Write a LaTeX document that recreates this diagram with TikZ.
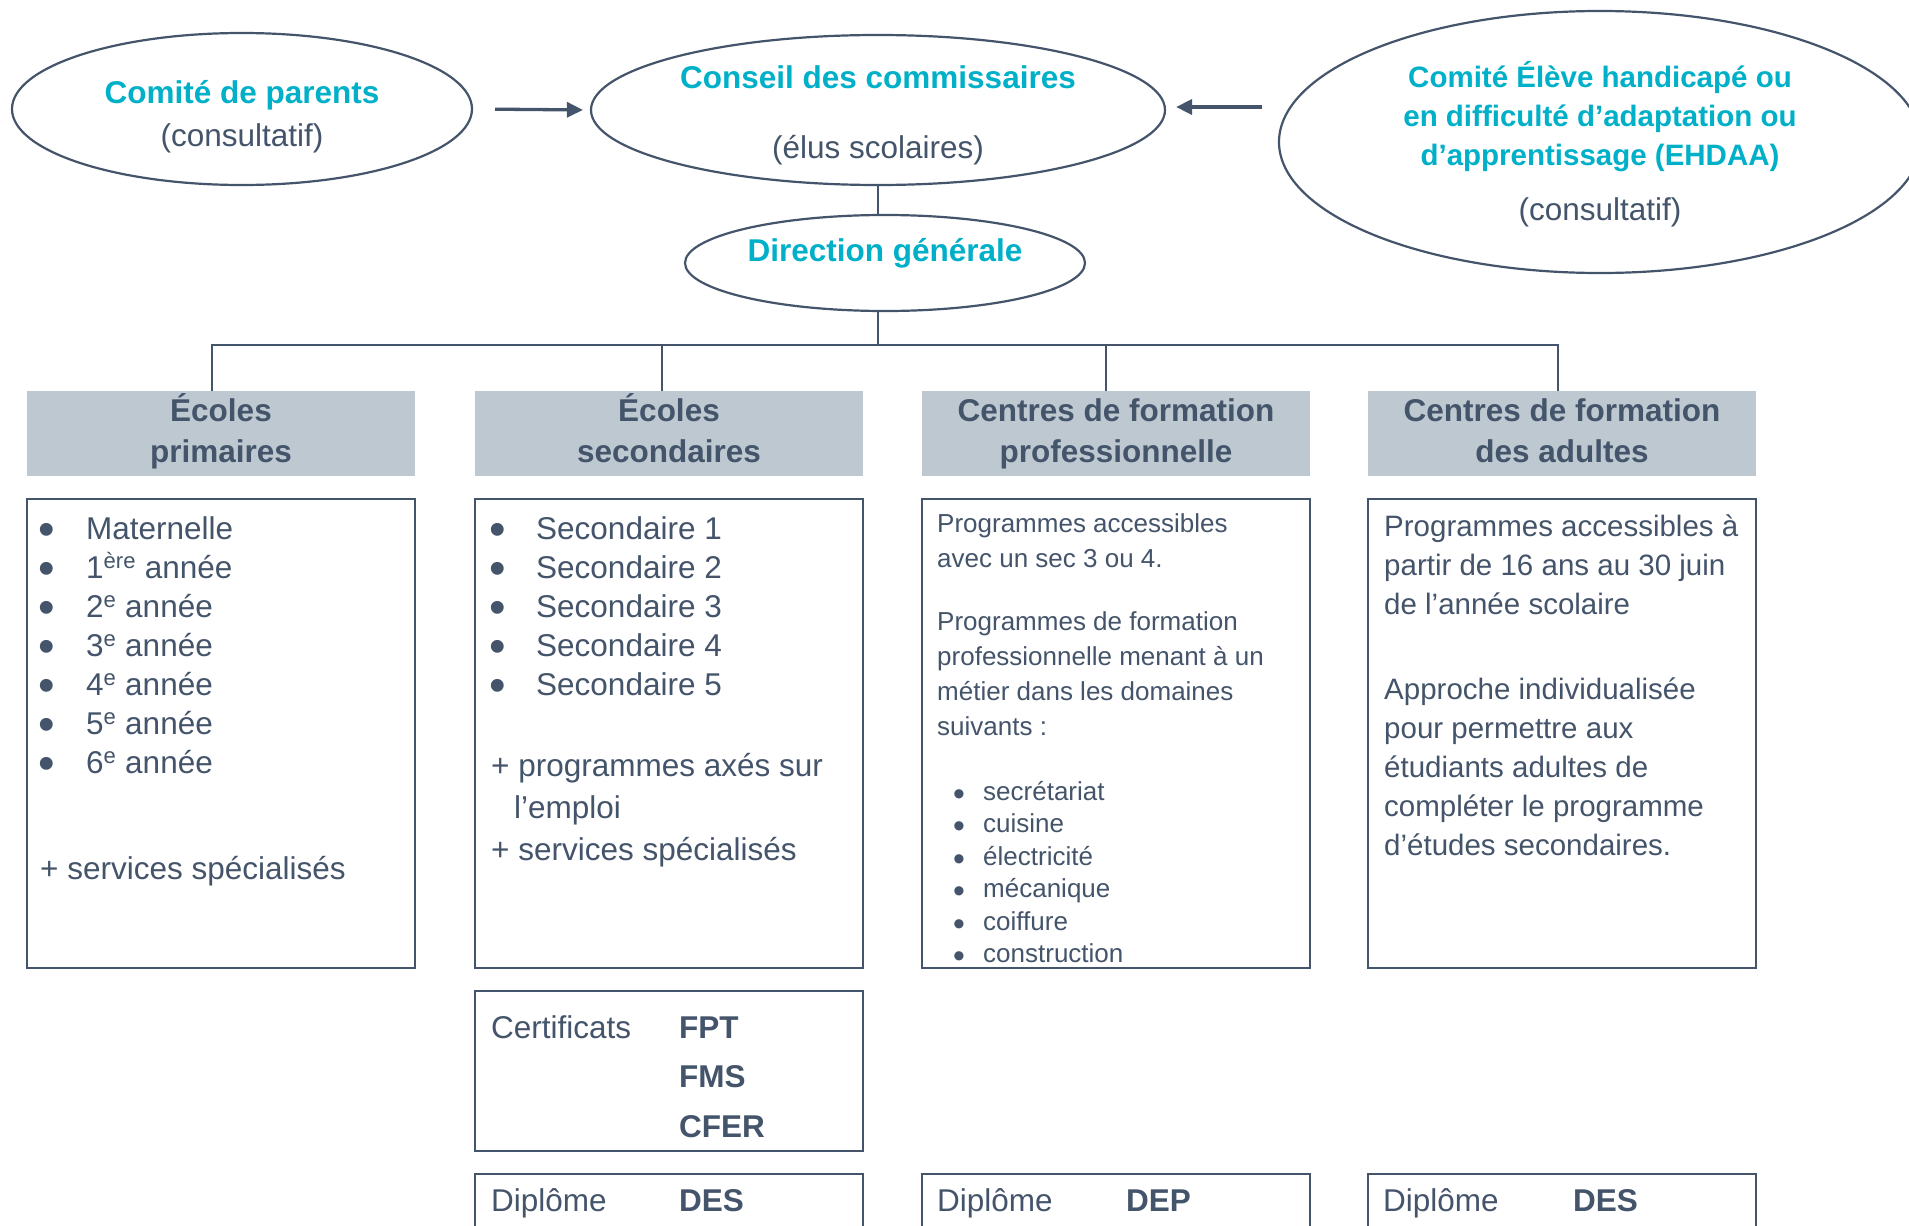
\documentclass[tikz,border=0pt]{standalone}
\usepackage{fontspec}
\usepackage{graphicx}
\setmainfont{Liberation Sans}
\usetikzlibrary{shapes.geometric,arrows.meta}
\definecolor{tealc}{HTML}{00B0C8}
\definecolor{grayc}{HTML}{44546A}
\definecolor{headc}{HTML}{BDC8D0}
\newcommand{\blt}[2]{\makebox[#1][l]{\smash{\raisebox{-0.38ex}{\scalebox{#2}{\textbullet}}}}}
\tikzset{
  ell/.style={ellipse, draw=grayc, line width=2.2pt, inner sep=0pt},
  ttl/.style={anchor=base, inner sep=0pt, text=tealc, font=\fontsize{31.5}{39}\selectfont\bfseries},
  sub/.style={anchor=base, inner sep=0pt, text=grayc, font=\fontsize{31.5}{39}\selectfont},
  hdr/.style={rectangle, fill=headc, minimum width=388pt, minimum height=85pt, inner sep=0pt,
              align=center, text=grayc, font=\fontsize{31.5}{41}\selectfont\bfseries},
  box/.style={rectangle, draw=grayc, line width=2.4pt, inner sep=0pt, minimum width=388pt},
  txt/.style={anchor=base west, inner sep=0pt, text=grayc, font=\fontsize{31.5}{39}\selectfont},
  txtb/.style={txt, font=\fontsize{31.5}{49.5}\selectfont\bfseries},
  txtc/.style={txt, font=\fontsize{26}{35.3}\selectfont},
  txtl/.style={txt, font=\fontsize{26}{32.5}\selectfont},
  txtd/.style={txt, font=\fontsize{29.5}{39}\selectfont},
  conn/.style={draw=grayc, line width=2pt},
  arr/.style={draw=grayc, line width=3.3pt, -{Triangle[length=16pt,width=15pt]}},
}
\begin{document}
\begin{tikzpicture}[x=1pt,y=-1pt]
\useasboundingbox (0,0) rectangle (1909,1226);
\fill[white] (0,0) rectangle (1909,1226);
\clip (0,0) rectangle (1909,1226);

% top ellipses
\node[ell, minimum width=460pt, minimum height=152pt] (parents) at (242,109) {};
\node[ttl] (parentsT) at (242,103) {Comité de parents};
\node[sub] (parentsS) at (242,146) {(consultatif)};

\node[ell, minimum width=574pt, minimum height=150pt] (conseil) at (878,110) {};
\node[ttl] (conseilT) at (878,88) {Conseil des commissaires};
\node[sub] (conseilS) at (878,158) {(élus scolaires)};

\node[ell, minimum width=642pt, minimum height=262pt] (ehdaa) at (1600,142) {};
\node[ttl, font=\fontsize{29.5}{39}\selectfont\bfseries] (ehdaaT) at (1600,87) {\begin{tabular}[t]{@{}c@{}}Comité Élève handicapé ou\\en difficulté d’adaptation ou\\d’apprentissage (EHDAA)\end{tabular}};
\node[sub] (ehdaaS) at (1600,220) {(consultatif)};

\node[ell, minimum width=400pt, minimum height=96pt] (direction) at (885,263) {};
\node[ttl] (directionT) at (885,261) {Direction générale};

% arrows
\draw[arr, shorten <=22pt, shorten >=7pt] (parents.east) -- (conseil.west);
\draw[arr] ([xshift=-16pt,yshift=3pt]ehdaa.west |- conseil.east) -- ([xshift=10pt,yshift=3pt]conseil.east);

% headers
\node[hdr] (h1) at (221,433.5) {\strut Écoles\\\strut primaires};
\node[hdr] (h2) at (669,433.5) {\strut Écoles\\\strut secondaires};
\node[hdr] (h3) at (1116,433.5) {\strut Centres de formation\\\strut professionnelle};
\node[hdr] (h4) at (1562,433.5) {\strut Centres de formation\\\strut des adultes};

% connectors
\draw[conn] (conseil.south) -- (conseil.south |- direction.north);
\coordinate (bus) at (878,345);
\draw[conn] (direction.south -| conseil.south) -- (bus);
\draw[conn] ([xshift=-9pt]h1.north) |- (bus) -| ([xshift=-4pt]h4.north);
\draw[conn] ([xshift=-7pt]h2.north) -- ([xshift=-7pt]h2.north |- bus);
\draw[conn] ([xshift=-10pt]h3.north) -- ([xshift=-10pt]h3.north |- bus);

% content boxes
\node[box, minimum height=469pt] (c1) at (221,733.5) {};
\node[box, minimum height=469pt] (c2) at (669,733.5) {};
\node[box, minimum height=469pt] (c3) at (1116,733.5) {};
\node[box, minimum height=469pt] (c4) at (1562,733.5) {};

% column 1
\node[txt] (c1list) at (38,539) {\begin{tabular}[t]{@{}l@{}}
\blt{48pt}{1.5}Maternelle\\
\blt{48pt}{1.5}1\textsuperscript{ère} année\\
\blt{48pt}{1.5}2\textsuperscript{e} année\\
\blt{48pt}{1.5}3\textsuperscript{e} année\\
\blt{48pt}{1.5}4\textsuperscript{e} année\\
\blt{48pt}{1.5}5\textsuperscript{e} année\\
\blt{48pt}{1.5}6\textsuperscript{e} année
\end{tabular}};
\node[txt] (c1serv) at (40,879) {+ services spécialisés};

% column 2
\node[txt] (c2list) at (489,539) {\begin{tabular}[t]{@{}l@{}}
\blt{47pt}{1.5}Secondaire 1\\
\blt{47pt}{1.5}Secondaire 2\\
\blt{47pt}{1.5}Secondaire 3\\
\blt{47pt}{1.5}Secondaire 4\\
\blt{47pt}{1.5}Secondaire 5
\end{tabular}};
\node[txt, font=\fontsize{31.5}{42}\selectfont] (c2more) at (491,776) {\begin{tabular}[t]{@{}l@{}}
+ programmes axés sur\\
\hspace*{23pt}l’emploi\\
+ services spécialisés
\end{tabular}};

% column 3
\node[txtc] (c3p1) at (937,532.5) {\begin{tabular}[t]{@{}l@{}}Programmes accessibles\\avec un sec 3 ou 4.\end{tabular}};
\node[txtc] (c3p2) at (937,630) {\begin{tabular}[t]{@{}l@{}}Programmes de formation\\professionnelle menant à un\\métier dans les domaines\\suivants :\end{tabular}};
\node[txtl] (c3list) at (953,800) {\begin{tabular}[t]{@{}l@{}}
\blt{30pt}{1.3}secrétariat\\
\blt{30pt}{1.3}cuisine\\
\blt{30pt}{1.3}électricité\\
\blt{30pt}{1.3}mécanique\\
\blt{30pt}{1.3}coiffure\\
\blt{30pt}{1.3}construction
\end{tabular}};

% column 4
\node[txtd] (c4p1) at (1384,536) {\begin{tabular}[t]{@{}l@{}}Programmes accessibles à\\partir de 16 ans au 30 juin\\de l’année scolaire\end{tabular}};
\node[txtd] (c4p2) at (1384,699) {\begin{tabular}[t]{@{}l@{}}Approche individualisée\\pour permettre aux\\étudiants adultes de\\compléter le programme\\d’études secondaires.\end{tabular}};

% certificates
\node[box, minimum height=160pt] (cert) at (669,1071) {};
\node[txt] (certT) at (491,1038) {Certificats};
\node[txtb] (certL) at (679,1038) {\begin{tabular}[t]{@{}l@{}}FPT\\FMS\\CFER\end{tabular}};

% diplomas
\node[box, minimum height=130pt] (d2) at (669,1239) {};
\node[box, minimum height=130pt] (d3) at (1116,1239) {};
\node[box, minimum height=130pt] (d4) at (1562,1239) {};
\node[txt] (d2T) at (491,1211) {Diplôme};
\node[txt, font=\fontsize{31.5}{39}\selectfont\bfseries] (d2C) at (679,1211) {DES};
\node[txt] (d3T) at (937,1211) {Diplôme};
\node[txt, font=\fontsize{31.5}{39}\selectfont\bfseries] (d3C) at (1126,1211) {DEP};
\node[txt] (d4T) at (1383,1211) {Diplôme};
\node[txt, font=\fontsize{31.5}{39}\selectfont\bfseries] (d4C) at (1573,1211) {DES};
\end{tikzpicture}
\end{document}
